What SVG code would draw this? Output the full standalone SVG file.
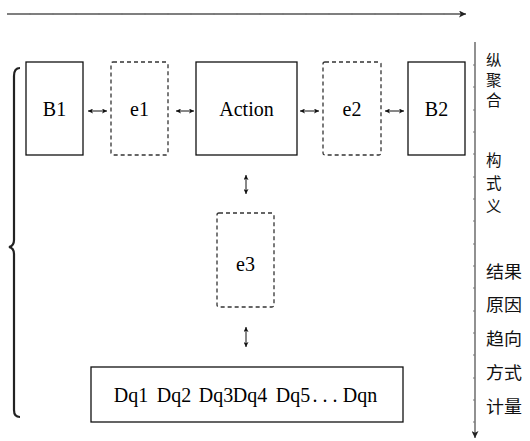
<svg xmlns="http://www.w3.org/2000/svg" width="530" height="441" viewBox="0 0 530 441">
  <style>
    .box { fill: #fff; stroke: #111; stroke-width: 1.3; }
    .dash { fill: #fff; stroke: #333; stroke-width: 1.3; stroke-dasharray: 4 3; }
    .lbl { font-size: 20px; fill: #000; text-anchor: middle; }
    .zh { font-family: 'Noto Sans CJK SC', 'Noto Sans', sans-serif; font-size: 17px; fill: #111; }
    .zs { font-size: 15.5px; }
    .link { stroke: #111; stroke-width: 1; fill: none; marker-start: url(#hs); marker-end: url(#he); }
    .axis { stroke: #555; stroke-width: 1.3; fill: none; }
    .tick { stroke: #777; stroke-width: 1; }
  </style>
  <defs>
    <marker id="he" viewBox="0 0 6 6" refX="6" refY="3" markerWidth="5" markerHeight="5" orient="auto" markerUnits="userSpaceOnUse">
      <path d="M0,0 L6,3 L0,6 L1.5,3 Z" fill="#111"/>
    </marker>
    <marker id="hs" viewBox="0 0 6 6" refX="0" refY="3" markerWidth="5" markerHeight="5" orient="auto" markerUnits="userSpaceOnUse">
      <path d="M6,0 L0,3 L6,6 L4.5,3 Z" fill="#111"/>
    </marker>
    <marker id="ax" viewBox="0 0 8 8" refX="8" refY="4" markerWidth="7" markerHeight="7" orient="auto" markerUnits="userSpaceOnUse">
      <path d="M0,0 L8,4 L0,8 L2,4 Z" fill="#222"/>
    </marker>
  </defs>

  <!-- horizontal axis with ticks -->
  <g id="top-axis">
    <line class="axis" x1="7" y1="14" x2="466" y2="14" marker-end="url(#ax)"/>
    <path class="tick" d="M30,13v2 M53,13v2 M76,13v2 M99,13v2 M122,13v2 M145,13v2 M168,13v2 M191,13v2 M214,13v2 M237,13v2 M260,13v2 M283,13v2 M306,13v2 M329,13v2 M352,13v2 M375,13v2 M398,13v2 M421,13v2 M444,13v2"/>
  </g>

  <!-- vertical axis with ticks -->
  <g id="side-axis">
    <line class="axis" x1="475" y1="42" x2="475" y2="438" marker-end="url(#ax)"/>
    <path class="tick" d="M473,65h2 M473,87h2 M473,110h2 M473,132h2 M473,154h2 M473,177h2 M473,199h2 M473,221h2 M473,244h2 M473,266h2 M473,288h2 M473,311h2 M473,333h2 M473,355h2 M473,378h2 M473,400h2 M473,422h2"/>
  </g>

  <!-- left brace -->
  <g id="brace">
    <path d="M20,68 Q14,68 14,76 L14,240 Q14,246 9,247 Q14,248 14,254 L14,410 Q14,417 20,417" fill="none" stroke="#222" stroke-width="2.2"/>
  </g>

  <!-- nodes; Latin labels use a Times-metric serif -->
  <g font-family="Liberation Serif, Times New Roman, serif">
    <g id="B1">
      <rect class="box" x="26" y="62" width="57" height="93"/>
      <text class="lbl" x="54.5" y="116">B1</text>
    </g>
    <g id="e1">
      <rect class="dash" x="111" y="62" width="57" height="93" rx="2"/>
      <text class="lbl" x="139.5" y="116">e1</text>
    </g>
    <g id="Action">
      <rect class="box" x="196" y="62" width="101" height="93"/>
      <text class="lbl" x="246.5" y="116">Action</text>
    </g>
    <g id="e2">
      <rect class="dash" x="323" y="62" width="58" height="93" rx="2"/>
      <text class="lbl" x="352" y="116">e2</text>
    </g>
    <g id="B2">
      <rect class="box" x="408" y="62" width="57" height="93"/>
      <text class="lbl" x="436.5" y="116">B2</text>
    </g>
    <g id="e3">
      <rect class="dash" x="217" y="213" width="57" height="94" rx="2"/>
      <text class="lbl" x="245.5" y="271">e3</text>
    </g>
    <g id="Dq">
      <rect class="box" x="91" y="367" width="312" height="55"/>
      <text class="lbl" x="131" y="402">Dq1</text>
      <text class="lbl" x="174" y="402">Dq2</text>
      <text class="lbl" x="216" y="402">Dq3</text>
      <text class="lbl" x="250" y="402">Dq4</text>
      <text class="lbl" x="293" y="402">Dq5</text>
      <text class="lbl" x="325" y="402">. . .</text>
      <text class="lbl" x="360" y="402">Dqn</text>
    </g>
  </g>

  <!-- connectors -->
  <g id="connectors">
    <line class="link" x1="88" y1="111" x2="107" y2="111"/>
    <line class="link" x1="176" y1="111" x2="194" y2="111"/>
    <line class="link" x1="300" y1="111" x2="319" y2="111"/>
    <line class="link" x1="385" y1="111" x2="404" y2="111"/>
    <line class="link" x1="246" y1="175" x2="246" y2="194"/>
    <line class="link" x1="246" y1="327" x2="246" y2="347"/>
  </g>

  <!-- side labels -->
  <g id="side-labels" class="zh">
    <text class="zs" x="486" y="66">纵</text>
    <text class="zs" x="486" y="86">聚</text>
    <text class="zs" x="486" y="106">合</text>
    <text class="zs" x="486" y="166">构</text>
    <text class="zs" x="486" y="189">式</text>
    <text class="zs" x="486" y="212">义</text>
    <text x="486" y="278" textLength="36" lengthAdjust="spacingAndGlyphs">结果</text>
    <text x="486" y="311" textLength="36" lengthAdjust="spacingAndGlyphs">原因</text>
    <text x="486" y="345" textLength="36" lengthAdjust="spacingAndGlyphs">趋向</text>
    <text x="486" y="379" textLength="36" lengthAdjust="spacingAndGlyphs">方式</text>
    <text x="486" y="413" textLength="36" lengthAdjust="spacingAndGlyphs">计量</text>
  </g>
</svg>
